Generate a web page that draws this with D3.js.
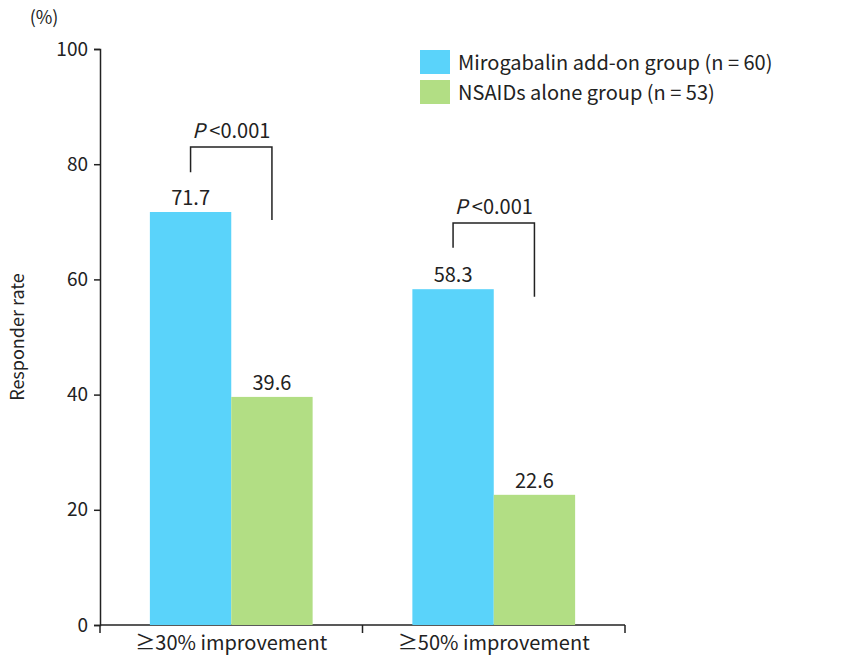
<!DOCTYPE html>
<html><head><meta charset="utf-8">
<script src="https://cdn.jsdelivr.net/npm/d3@7"></script>
<style>
body{margin:0;background:#fff}
text{font-family:"Noto Sans CJK JP","Noto Sans",sans-serif;fill:#222}
</style></head><body>
<svg id="c" width="849" height="659"></svg>
<script>
// chart data
const categories = ['≥30% improvement', '≥50% improvement'];
const groups = ['Mirogabalin add-on group (n = 60)', 'NSAIDs alone group (n = 53)'];
const colors = ['#5ad3fa', '#b2de84'];
const values = [[71.7, 39.6], [58.3, 22.6]];
const yTicks = [0, 20, 40, 60, 80, 100];
// significance brackets: [left leg bottom, top, right leg bottom] in % units
const brackets = [[78.6, 83.0, 70.3], [65.5, 69.8, 57.0]];
const pLabel = '<0.001';

const svg = d3.select('#c');
const m = {l: 100, r: 224, t: 49, b: 34};
const W = 849 - m.l - m.r, H = 659 - m.t - m.b;
const g = svg.append('g').attr('transform', `translate(${m.l},${m.t})`);

const y = d3.scaleLinear().domain([0, 100]).range([H, 0]);
const x = d3.scaleBand().domain(categories).range([0, W]).paddingInner(0.38).paddingOuter(0.19);
const xs = d3.scaleBand().domain([0, 1]).range([0, x.bandwidth()]);

// y axis
const ya = g.append('g').call(d3.axisLeft(y).tickValues(yTicks).tickSize(6).tickPadding(6));
ya.selectAll('text').style('font-size', '19px');
ya.select('.domain').attr('stroke', '#222').attr('stroke-width', 1.5);
ya.selectAll('line').attr('stroke', '#222').attr('stroke-width', 1.5);

// x axis with separator ticks
g.append('line').attr('x1', 0).attr('x2', W).attr('y1', H).attr('y2', H).attr('stroke', '#222').attr('stroke-width', 1.5);
const sepX = [0, W / 2, W];
g.selectAll('.sep').data(sepX).join('line').attr('x1', d => d).attr('x2', d => d)
  .attr('y1', H).attr('y2', H + 8).attr('stroke', '#222').attr('stroke-width', 1.5);
g.selectAll('.cat').data(categories).join('text')
  .attr('x', (d, i) => sepX[i] + W / 4).attr('y', H + 25).attr('text-anchor', 'middle')
  .style('font-size', '20px').text(d => d);

// bars
categories.forEach((c, ci) => {
  values[ci].forEach((v, gi) => {
    const bx = x(c) + xs(gi);
    g.append('rect').attr('x', bx).attr('y', y(v)).attr('width', xs.bandwidth())
      .attr('height', H - y(v)).attr('fill', colors[gi]);
    g.append('text').attr('x', bx + xs.bandwidth() / 2).attr('y', y(v) - 7)
      .attr('text-anchor', 'middle').style('font-size', '20px').text(v.toFixed(1));
  });
  const b = brackets[ci];
  const x1 = x(c) + xs(0) + xs.bandwidth() / 2, x2 = x(c) + xs(1) + xs.bandwidth() / 2;
  g.append('path').attr('d', `M${x1},${y(b[0])}V${y(b[1])}H${x2}V${y(b[2])}`)
    .attr('fill', 'none').attr('stroke', '#222').attr('stroke-width', 1.5);
  const t = g.append('text').attr('x', (x1 + x2) / 2).attr('y', y(b[1]) - 9)
    .attr('text-anchor', 'middle').style('font-size', '20px');
  t.append('tspan').style('font-style', 'italic').text('P ');
  t.append('tspan').text(pLabel);
});

// axis titles
svg.append('text').attr('x', 44).attr('y', 24).attr('text-anchor', 'middle').style('font-size', '18px').text('(%)');
svg.append('text').attr('transform', 'translate(24,337) rotate(-90)').attr('text-anchor', 'middle')
  .style('font-size', '18px').text('Responder rate');

// legend
groups.forEach((d, i) => {
  svg.append('rect').attr('x', 420).attr('y', 50 + i * 30).attr('width', 30).attr('height', 24).attr('fill', colors[i]);
  svg.append('text').attr('x', 458).attr('y', 70 + i * 30).style('font-size', '20px').text(d);
});
</script></body></html>
